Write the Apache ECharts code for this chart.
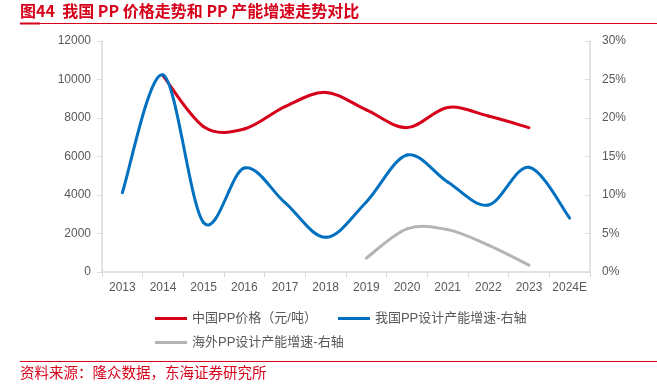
<!DOCTYPE html>
<html><head><meta charset="utf-8">
<script src="https://cdn.jsdelivr.net/npm/echarts@6/dist/echarts.min.js"></script>
<style>html,body{margin:0;padding:0;background:#fff}#c{width:657px;height:384px}</style>
</head><body><div id="c"></div>
<script>
const categories = ['2013','2014','2015','2016','2017','2018','2019','2020','2021','2022','2023','2024E'];
const chinaPrice = [null,10200,7550,7430,8590,9330,8420,7500,8550,8100,7500,null];
const chinaCapGrowth = [10.3,25.6,6.4,13.5,9.0,4.5,9.1,15.2,11.7,8.7,13.6,7.0];
const overseasCapGrowth = [null,null,null,null,null,null,1.8,5.6,5.5,3.5,0.9,null];
const leftTicks = {min:0,max:12000,interval:2000};
const rightTicks = {min:0,max:30,interval:5};
const names = ['中国PP价格（元/吨）','我国PP设计产能增速-右轴','海外PP设计产能增速-右轴'];
const colors = ['#d7001a','#0070c0','#b4b4b4'];

const chart = echarts.init(document.getElementById('c'));
const font = '"Liberation Sans","Noto Sans CJK SC",sans-serif';
const labelStyle = {color:'#595959',fontSize:12,fontFamily:font};
const legendText = {color:'#595959',fontSize:13,fontFamily:'"Liberation Sans","Noto Sans CJK SC",sans-serif'};

function toPoints(arr){ const out=[]; arr.forEach((v,i)=>{ if(v!==null) out.push([i,v]); }); return out; }

// Smooth (Excel-like Catmull-Rom) line drawn through the axes via api.coord
function smoothSeries(name, values, yAxisIndex, color, z){
  const pts = toPoints(values);
  return {
    name, type:'custom', coordinateSystem:'cartesian2d', yAxisIndex, z,
    data: pts, encode:{x:0,y:1}, itemStyle:{color}, silent:true,
    renderItem(params, api){
      const i = params.dataIndex;
      if (i >= pts.length-1) return null;
      const P = k => api.coord(pts[Math.max(0,Math.min(pts.length-1,k))]);
      const p0=P(i-1), p1=P(i), p2=P(i+1), p3=P(i+2);
      const t = 1/6;
      return {type:'bezierCurve',
        shape:{x1:p1[0],y1:p1[1],x2:p2[0],y2:p2[1],
          cpx1:p1[0]+(p2[0]-p0[0])*t, cpy1:p1[1]+(p2[1]-p0[1])*t,
          cpx2:p2[0]-(p3[0]-p1[0])*t, cpy2:p2[1]-(p3[1]-p1[1])*t},
        style:{stroke:color,lineWidth:3,fill:null,lineCap:'round'}};
    }
  };
}

chart.setOption({
  animation:false,
  textStyle:{fontFamily:font},
  grid:{left:102,right:67,top:41,bottom:112},
  graphic:[
    {type:'text',left:20,top:3,style:{text:'图44  我国 PP 价格走势和 PP 产能增速走势对比',fill:'#d7001a',font:'bold 16px "Noto Sans CJK SC",sans-serif'}},
    {type:'rect',shape:{x:20,y:23,width:637,height:1},style:{fill:'#d7001a'}},
    {type:'rect',shape:{x:20,y:22.5,width:20,height:2},style:{fill:'#d7001a'}},
    {type:'rect',shape:{x:20,y:361,width:637,height:1},style:{fill:'#d7001a'}},
    {type:'text',left:20,top:365,style:{text:'资料来源：隆众数据，东海证券研究所',fill:'#d7001a',font:'14.5px "Noto Sans CJK SC",sans-serif'}}
  ],
  legend:[
    {data:[names[0],names[1]],left:150,top:307,itemWidth:32,itemHeight:3,itemGap:21,icon:'rect',textStyle:legendText},
    {data:[names[2]],left:150,top:331,itemWidth:32,itemHeight:3,icon:'rect',textStyle:legendText}
  ],
  xAxis:{type:'category',data:categories,boundaryGap:true,
    axisLine:{lineStyle:{color:'#d9d9d9',width:1.5}},
    axisTick:{show:true,length:5,lineStyle:{color:'#d9d9d9'}},
    axisLabel:Object.assign({margin:10,interval:0},labelStyle)},
  yAxis:[
    {type:'value',min:leftTicks.min,max:leftTicks.max,interval:leftTicks.interval,position:'left',
     axisLine:{show:true,lineStyle:{color:'#d9d9d9',width:1.5}},
     axisTick:{show:true,length:5,lineStyle:{color:'#d9d9d9'}},
     splitLine:{show:false},axisLabel:Object.assign({margin:11,formatter:v=>String(v)},labelStyle)},
    {type:'value',min:rightTicks.min,max:rightTicks.max,interval:rightTicks.interval,position:'right',
     axisLine:{show:true,lineStyle:{color:'#d9d9d9',width:1.5}},
     axisTick:{show:true,length:5,inside:true,lineStyle:{color:'#d9d9d9'}},
     splitLine:{show:false},axisLabel:Object.assign({margin:12,formatter:'{value}%'},labelStyle)}
  ],
  series:[
    smoothSeries(names[0], chinaPrice, 0, colors[0], 2),
    smoothSeries(names[1], chinaCapGrowth, 1, colors[1], 3),
    smoothSeries(names[2], overseasCapGrowth, 1, colors[2], 2)
  ]
});
</script></body></html>
